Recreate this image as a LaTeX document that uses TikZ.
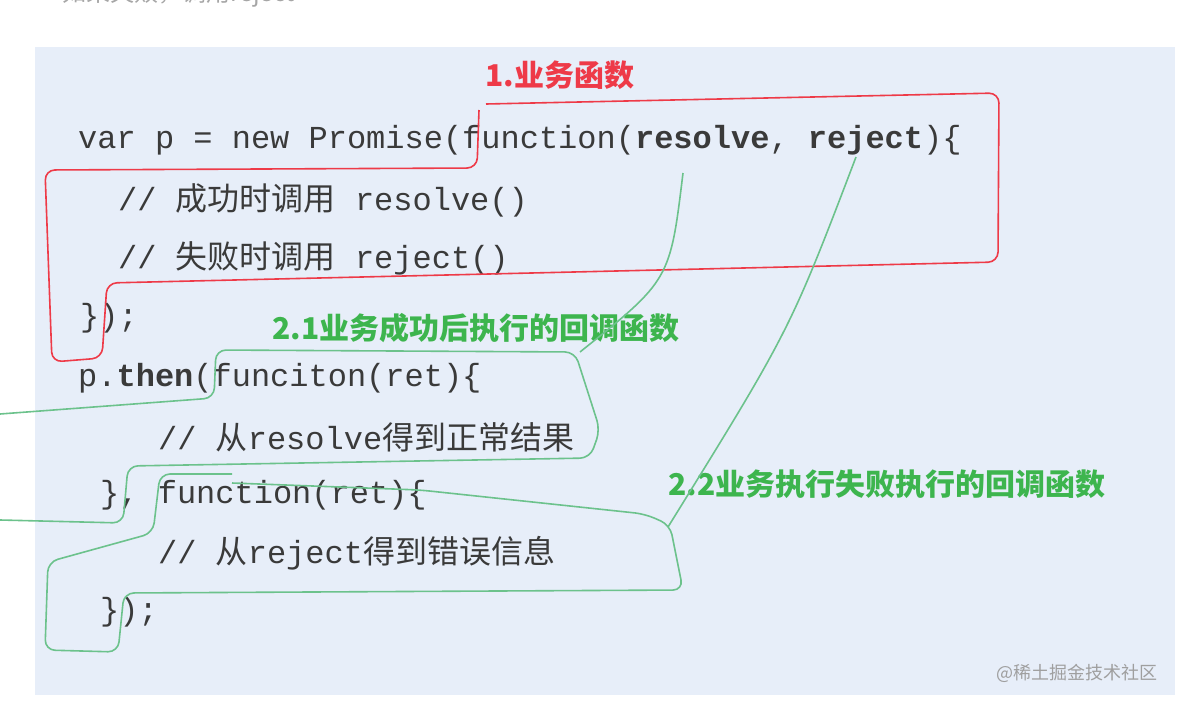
\documentclass[tikz,border=0pt]{standalone}
\usepackage{fontspec}
\setmonofont{Liberation Mono}
\newfontfamily\cjk{Noto Sans CJK SC}
\definecolor{bgc}{HTML}{E7EEF9}
\definecolor{codec}{HTML}{3A3A3A}
\definecolor{redl}{HTML}{EE3A48}
\definecolor{greenl}{HTML}{3DB54E}
\definecolor{greenw}{HTML}{6CC28C}
\begin{document}
\begin{tikzpicture}[x=1pt,y=-1pt,
  code/.style={anchor=west,inner sep=0pt,font=\fontsize{32}{32}\ttfamily,text=codec},
  lab/.style={anchor=west,inner sep=0pt,font=\fontsize{30}{30}\cjk\bfseries},
  redpath/.style={draw=redl,line width=1.6pt,rounded corners=10pt},
  grnpath/.style={draw=greenw,line width=1.6pt,rounded corners=10pt}]
\useasboundingbox (0,0) rectangle (1178,704);
\fill[bgc] (35,47) rectangle (1175,695);
\node[anchor=west,text=gray!70,font=\fontsize{24}{24}\cjk] (top) at (30,-6) {•\ 如果失败，调用reject};
\node[code] (l1) at (78,140) {var p = new Promise(function(\textbf{resolve}, \textbf{reject})\{};
\node[code] (l2) at (118,200) {// {\cjk 成功时调用} resolve()};
\node[code] (l3) at (118,258) {// {\cjk 失败时调用} reject()};
\node[code] (l4) at (80,318) {\});};
\node[code] (l5) at (78,378) {p.\textbf{then}(funciton(ret)\{};
\node[code] (l6) at (158,437) {// {\cjk 从}resolve{\cjk 得到正常结果}};
\node[code] (l7) at (100,495) {\}, function(ret)\{};
\node[code] (l8) at (158,553) {// {\cjk 从}reject{\cjk 得到错误信息}};
\node[code] (l9) at (100,612) {\});};
\node[lab,text=redl] (r1) at (485,75) {1.业务函数};
\node[lab,text=greenl] (g1) at (272,328) {2.1业务成功后执行的回调函数};
\node[lab,text=greenl] (g2) at (668,484) {2.2业务执行失败执行的回调函数};
\node[anchor=east,inner sep=0pt,text=gray!75,font=\fontsize{18}{18}\cjk] (wm) at (1158,673) {@稀土掘金技术社区};
% red outline
\draw[redpath] (486,104) -- (999,93) -- (998,262) -- (107,283) -- (102,358) -- (52,362) -- (45,170) -- (477,168) -- (479,110);
% green 2.1
\draw[grnpath] (0,414) -- (214,398) -- (216,350) -- (575,352) -- (600,430) -- (590,458) -- (128,466) -- (123,523) -- (0,520);
\draw[greenw,line width=1.6pt] (683,173) .. controls (670,280) .. (580,352);
% green 2.2
\draw[grnpath] (232,474) -- (160,474) -- (153,533) -- (48,562) -- (45,650) -- (118,652) -- (124,593) -- (683,590) -- (670,525) -- (645,514) -- (420,490) -- (232,483);
\draw[greenw,line width=1.6pt] (856,157) .. controls (790,330) .. (668,527);
\end{tikzpicture}
\end{document}
